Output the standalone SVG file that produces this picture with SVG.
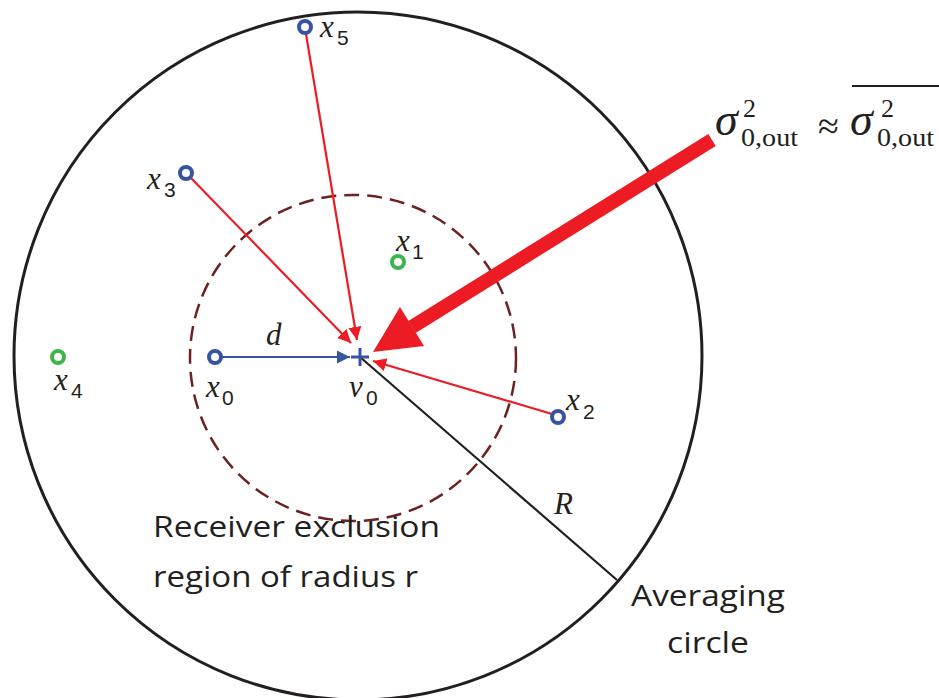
<svg xmlns="http://www.w3.org/2000/svg" width="939" height="698" viewBox="0 0 939 698">
<style>
.math{font-family:"Liberation Serif","DejaVu Serif",serif;font-style:italic;font-size:31px;fill:#231f20}
.sub{font-family:"Liberation Sans","DejaVu Sans",sans-serif;font-size:21px;fill:#231f20}
.lab{font-family:"Open Sans","Liberation Sans",sans-serif;font-size:29px;fill:#231f20}
.eq{font-family:"Liberation Serif","DejaVu Serif",serif;fill:#231f20}
.blue{fill:#fff;stroke:#3853a4;stroke-width:4}
.green{fill:#fff;stroke:#3db54a;stroke-width:4}
.red{stroke:#ed1c24;stroke-width:2.2;fill:none}
</style>
<defs>
<marker id="ar" viewBox="0 0 10 10" refX="10" refY="5" markerWidth="6" markerHeight="6" orient="auto" markerUnits="strokeWidth">
<path d="M0,0 L10,5 L0,10 Z" fill="#ed1c24"/>
</marker>
<marker id="ab" viewBox="0 0 10 10" refX="10" refY="5" markerWidth="6" markerHeight="6" orient="auto" markerUnits="strokeWidth">
<path d="M0,0 L10,5 L0,10 Z" fill="#3853a4"/>
</marker>
</defs>
<rect width="939" height="698" fill="#fff"/>
<g id="averaging-circle">
<circle cx="358" cy="356" r="344" fill="none" stroke="#231f20" stroke-width="3"/>
</g>
<g id="exclusion-circle">
<circle cx="353" cy="358" r="163" fill="none" stroke="#6d2121" stroke-width="2.5" stroke-dasharray="15 8"/>
</g>
<g id="connectors">
<line x1="360" y1="357" x2="617" y2="580" stroke="#231f20" stroke-width="2.2"/>
<line x1="306" y1="34" x2="357" y2="340" class="red" marker-end="url(#ar)"/>
<line x1="191" y1="178" x2="351" y2="343" class="red" marker-end="url(#ar)"/>
<line x1="552" y1="414" x2="373" y2="361" class="red" marker-end="url(#ar)"/>
<line x1="222" y1="357" x2="350" y2="357" stroke="#3853a4" stroke-width="2.2" marker-end="url(#ab)"/>
<g id="big-arrow">
<line x1="712" y1="140" x2="412" y2="327" stroke="#ed1c24" stroke-width="14"/>
<polygon points="373,352 400,307 424,346" fill="#ed1c24"/>
</g>
</g>
<g id="v0">
<line x1="351" y1="357" x2="369" y2="357" stroke="#3853a4" stroke-width="3"/>
<line x1="360" y1="348" x2="360" y2="366" stroke="#3853a4" stroke-width="3"/>
<text x="349" y="397" class="math">v</text><text x="366" y="405" class="sub">0</text>
</g>
<g id="x0">
<circle cx="215" cy="357" r="6" class="blue"/>
<text x="206" y="397" class="math">x</text><text x="222" y="405" class="sub">0</text>
</g>
<g id="x1">
<circle cx="398" cy="262" r="6" class="green"/>
<text x="396" y="251" class="math">x</text><text x="412" y="259" class="sub">1</text>
</g>
<g id="x2">
<circle cx="558" cy="417" r="6" class="blue"/>
<text x="566" y="410" class="math">x</text><text x="583" y="419" class="sub">2</text>
</g>
<g id="x3">
<circle cx="186" cy="173" r="6" class="blue"/>
<text x="147" y="189" class="math">x</text><text x="164" y="197" class="sub">3</text>
</g>
<g id="x4">
<circle cx="58" cy="357" r="6" class="green"/>
<text x="54" y="390" class="math">x</text><text x="71" y="398" class="sub">4</text>
</g>
<g id="x5">
<circle cx="305" cy="27" r="6" class="blue"/>
<text x="320" y="37" class="math">x</text><text x="337" y="45" class="sub">5</text>
</g>
<g id="labels">
<text x="266" y="345" class="math">d</text>
<text x="554" y="514" class="math">R</text>
<text x="153" y="537" class="lab" textLength="287" lengthAdjust="spacingAndGlyphs">Receiver exclusion</text>
<text x="153" y="587" class="lab" textLength="265" lengthAdjust="spacingAndGlyphs">region of radius r</text>
<text x="631" y="606" class="lab" textLength="154" lengthAdjust="spacingAndGlyphs">Averaging</text>
<text x="667" y="653" class="lab" textLength="82" lengthAdjust="spacingAndGlyphs">circle</text>
</g>
<g id="equation">
<text x="715" y="135" class="eq" font-size="46" font-style="italic">σ</text>
<text x="743" y="117" class="eq" font-size="26">2</text>
<text x="741" y="146" class="eq" font-size="26" textLength="57" lengthAdjust="spacingAndGlyphs">0,out</text>
<text x="818" y="139" class="eq" font-size="38">≈</text>
<text x="850" y="135" class="eq" font-size="46" font-style="italic">σ</text>
<text x="881" y="117" class="eq" font-size="26">2</text>
<text x="877" y="146" class="eq" font-size="26" textLength="57" lengthAdjust="spacingAndGlyphs">0,out</text>
<line x1="852" y1="86" x2="939" y2="86" stroke="#231f20" stroke-width="2"/>
</g>
</svg>
